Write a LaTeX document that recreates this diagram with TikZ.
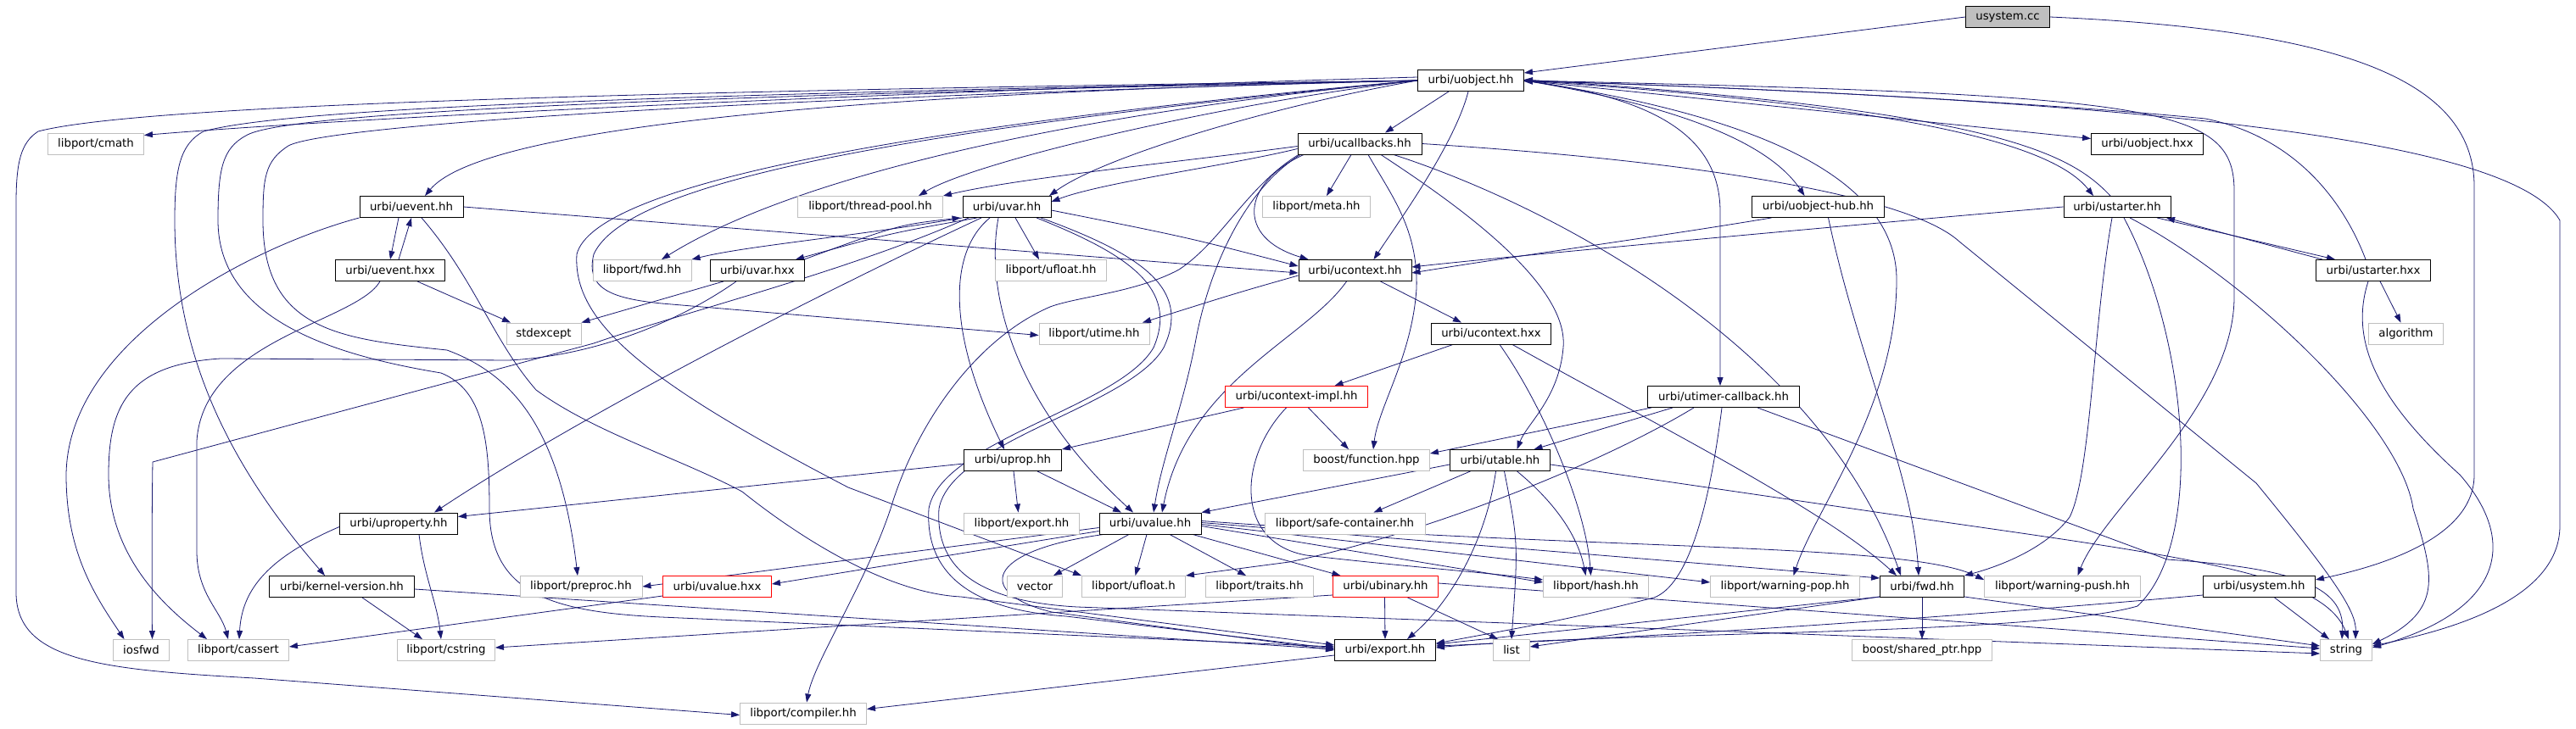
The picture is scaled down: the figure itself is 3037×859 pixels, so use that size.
\documentclass[tikz,border=0pt]{standalone}
\usepackage{fontspec}
\setmainfont{DejaVu Sans}
\usetikzlibrary{arrows.meta}
\definecolor{edgecol}{HTML}{191970}
\definecolor{boxgray}{HTML}{BFBFBF}
\definecolor{fillgray}{HTML}{BFBFBF}
\pgfdeclarelayer{bg}
\pgfsetlayers{bg,main}
\newcommand\nodefont{\fontsize{13.3}{16}\selectfont}
\tikzset{
  bb/.style={draw=black,line width=0.9pt,fill=white,minimum height=25pt,inner sep=0pt,font=\nodefont},
  gb/.style={bb,draw=boxgray},
  rb/.style={bb,draw=red},
  e/.style={draw=edgecol,line width=0.8pt,-{Triangle[length=10pt,width=7pt]}},
}
\begin{document}
\begin{tikzpicture}[x=1pt,y=-1pt]
\useasboundingbox (0,0) rectangle (3037,859);
\begin{pgfonlayer}{bg}
\fill[white] (0,0) rectangle (3037,859);
\end{pgfonlayer}
% ---------- nodes ----------
\node[bb,fill=fillgray,minimum width=99pt] (usycc) at (2367,20) {usystem.cc};
\node[bb,minimum width=125pt] (uobjhh) at (1734,95) {urbi/uobject.hh};
\node[gb,minimum width=113pt] (cmath) at (113,169.5) {libport/cmath};
\node[bb,minimum width=146pt] (ucallbacks) at (1603,169.5) {urbi/ucallbacks.hh};
\node[bb,minimum width=132pt] (uobjhxx) at (2531.5,169.5) {urbi/uobject.hxx};
\node[bb,minimum width=122pt] (uevent) at (485,244) {urbi/uevent.hh};
\node[gb,minimum width=171pt] (threadpool) at (1026,244) {libport/thread-pool.hh};
\node[bb,minimum width=104pt] (uvar) at (1187,244) {urbi/uvar.hh};
\node[gb,minimum width=127pt] (meta) at (1552,244) {libport/meta.hh};
\node[bb,minimum width=156pt] (uobjhub) at (2143.5,244) {urbi/uobject-hub.hh};
\node[bb,minimum width=126pt] (ustarter) at (2496,244) {urbi/ustarter.hh};
\node[bb,minimum width=129pt] (ueventhxx) at (460,319) {urbi/uevent.hxx};
\node[gb,minimum width=116pt] (pfwd) at (757,319) {libport/fwd.hh};
\node[bb,minimum width=111pt] (uvarhxx) at (893,319) {urbi/uvar.hxx};
\node[gb,minimum width=131pt] (ufloathh) at (1239,319) {libport/ufloat.hh};
\node[bb,minimum width=133pt] (ucontext) at (1597.5,319) {urbi/ucontext.hh};
\node[bb,minimum width=135pt] (ustarterhxx) at (2798,319) {urbi/ustarter.hxx};
\node[gb,minimum width=88pt] (stdexcept) at (641,393.5) {stdexcept};
\node[gb,minimum width=130pt] (utime) at (1290,393.5) {libport/utime.hh};
\node[bb,minimum width=141pt] (ucontexthxx) at (1758,393.5) {urbi/ucontext.hxx};
\node[gb,minimum width=88pt] (algorithm) at (2836.5,393.5) {algorithm};
\node[rb,minimum width=168pt] (ucimpl) at (1528.5,468) {urbi/ucontext-impl.hh};
\node[bb,minimum width=179pt] (utimer) at (2032,468) {urbi/utimer-callback.hh};
\node[bb,minimum width=115pt] (uprop) at (1194,543) {urbi/uprop.hh};
\node[gb,minimum width=149pt] (bfunction) at (1611,543) {boost/function.hpp};
\node[bb,minimum width=118pt] (utable) at (1768.5,543) {urbi/utable.hh};
\node[bb,minimum width=139pt] (uproperty) at (470,617.5) {urbi/uproperty.hh};
\node[gb,minimum width=136pt] (pexport) at (1204.5,617.5) {libport/export.hh};
\node[bb,minimum width=120pt] (uvalue) at (1356,617.5) {urbi/uvalue.hh};
\node[gb,minimum width=189pt] (safecont) at (1585.5,617.5) {libport/safe-container.hh};
\node[bb,minimum width=171pt] (kernel) at (403,692) {urbi/kernel-version.hh};
\node[gb,minimum width=144pt] (preproc) at (685,692) {libport/preproc.hh};
\node[rb,minimum width=128pt] (uvaluehxx) at (845.5,692) {urbi/uvalue.hxx};
\node[gb,minimum width=65pt] (vector) at (1220,692) {vector};
\node[gb,minimum width=122pt] (ufloath) at (1336.5,692) {libport/ufloat.h};
\node[gb,minimum width=127pt] (traits) at (1485,692) {libport/traits.hh};
\node[rb,minimum width=124pt] (ubinary) at (1633.5,692) {urbi/ubinary.hh};
\node[gb,minimum width=124pt] (hash) at (1881.5,692) {libport/hash.hh};
\node[gb,minimum width=176pt] (wpop) at (2104.5,692) {libport/warning-pop.hh};
\node[bb,minimum width=99pt] (ufwd) at (2266,692) {urbi/fwd.hh};
\node[gb,minimum width=184pt] (wpush) at (2431.5,692) {libport/warning-push.hh};
\node[bb,minimum width=132pt] (usystemhh) at (2663.5,692) {urbi/usystem.hh};
\node[gb,minimum width=66pt] (iosfwd) at (166.5,767) {iosfwd};
\node[gb,minimum width=119pt] (cassert) at (281,767) {libport/cassert};
\node[gb,minimum width=115pt] (cstring) at (526,767) {libport/cstring};
\node[bb,minimum width=119pt] (uexport) at (1633,767) {urbi/export.hh};
\node[gb,minimum width=43pt] (list) at (1782,767) {list};
\node[gb,minimum width=165pt] (sharedptr) at (2266,767) {boost/shared\_ptr.hpp};
\node[gb,minimum width=61pt] (string) at (2766,767) {string};
\node[gb,minimum width=149pt] (compiler) at (947,841.5) {libport/compiler.hh};
% ---------- edges ----------
\begin{pgfonlayer}{bg}
% usystem.cc
\draw[e] (usycc.west) -- ([yshift=9pt]uobjhh.east);
\draw[e] (usycc.east) .. controls (2750,35) and (2917,90) .. (2917,220) -- (2917,560) .. controls (2917,630) and (2820,665) .. ([yshift=8pt]usystemhh.east);
% uobject.hh
\draw[e] (uobjhh.west) .. controls (700,108) and (160,125) .. (45,155) .. controls (25,168) and (19,190) .. (19,240) -- (19,700) .. controls (20,780) and (120,790) .. (300,800) -- ([yshift=-2pt]compiler.west);
\draw[e] ([yshift=4pt]uobjhh.west) .. controls (1000,110) and (400,140) .. ([yshift=10pt]cmath.east);
\draw[e] (uobjhh.west) .. controls (700,112) and (330,130) .. (240,155) .. controls (212,170) and (206,200) .. (206,260) .. controls (206,430) and (280,560) .. ([xshift=-20pt]kernel.north);
\draw[e] (uobjhh.west) .. controls (700,115) and (330,135) .. (290,160) .. controls (262,175) and (257,200) .. (257,260) .. controls (257,380) and (400,420) .. (520,440) .. controls (570,460) and (577,520) .. (577,600) .. controls (577,700) and (650,722) .. (780,728) -- ([yshift=4pt]uexport.west);
\draw[e] (uobjhh.west) .. controls (800,118) and (380,150) .. (340,172) .. controls (312,190) and (310,210) .. (310,260) .. controls (310,390) and (400,400) .. (527,413) .. controls (600,440) and (660,500) .. ([xshift=-4pt]preproc.north);
\draw[e] (uobjhh.west) .. controls (900,112) and (560,160) .. ([xshift=16pt]uevent.north);
\draw[e] (uobjhh.west) .. controls (1050,150) and (700,220) .. (680,300) .. controls (675,380) and (760,450) .. (1000,575) -- (ufloath.north west);
\draw[e] (uobjhh.west) .. controls (1100,150) and (740,210) .. (700,300) .. controls (690,340) and (720,352) .. (780,358) -- ([yshift=-2pt]utime.west);
\draw[e] (uobjhh.west) .. controls (1450,120) and (1150,190) .. ([xshift=57pt]threadpool.north);
\draw[e] (uobjhh.west) .. controls (1500,125) and (1300,185) .. ([xshift=50pt]uvar.north);
\draw[e] (uobjhh.west) .. controls (1300,130) and (950,200) .. ([xshift=23pt]pfwd.north);
\draw[e] ([xshift=-26pt]uobjhh.south) -- ([xshift=30pt]ucallbacks.north);
\draw[e] ([xshift=-3pt]uobjhh.south) .. controls (1715,170) and (1650,260) .. ([xshift=22pt]ucontext.north);
\draw[e] (uobjhh.east) .. controls (1950,120) and (2080,160) .. ([xshift=-16pt]uobjhub.north);
\draw[e] (uobjhh.east) .. controls (1950,115) and (2028,160) .. (2028,250) -- ([xshift=-4pt]utimer.north);
\draw[e] (uobjhh.east) -- ([yshift=6pt]uobjhxx.west);
\draw[e] (uobjhh.east) .. controls (2250,125) and (2420,170) .. ([xshift=-28pt]ustarter.north);
\draw[e] (uobjhh.east) .. controls (2560,112) and (2636,125) .. (2634,230) -- (2634,350) .. controls (2634,480) and (2480,600) .. ([xshift=18pt]wpush.north);
\draw[e] (uobjhh.east) .. controls (2500,118) and (2960,160) .. (3018,260) -- (3018,620) .. controls (3018,710) and (2880,745) .. ([yshift=5pt]string.east);
\draw[e] (uobjhh.east) .. controls (2100,140) and (2236,220) .. (2236,330) .. controls (2236,480) and (2140,600) .. ([xshift=10pt]wpop.north);
% back edges into uobject.hh
\draw[e] ([xshift=-8pt]ustarter.north) .. controls (2440,180) and (2350,130) .. ([yshift=1pt]uobjhh.east);
\draw[e] ([xshift=-9pt]ustarterhxx.north) .. controls (2760,230) and (2700,160) .. (2600,140) .. controls (2400,120) and (2000,100) .. ([yshift=-1pt]uobjhh.east);
% uobject-hub
\draw[e] ([xshift=12pt]uobjhub.south) .. controls (2190,420) and (2255,560) .. ([xshift=-4pt]ufwd.north);
\draw[e] ([xshift=-55pt]uobjhub.south) .. controls (1950,280) and (1800,300) .. ([yshift=-3pt]ucontext.east);
% ustarter
\draw[e] (ustarter.west) .. controls (2300,255) and (1800,300) .. ([yshift=4pt]ucontext.east);
\draw[e] ([xshift=-6pt]ustarter.south) .. controls (2468,380) and (2465,560) .. (2440,610) .. controls (2410,650) and (2350,670) .. (ufwd.north east);
\draw[e] ([xshift=8pt]ustarter.south) .. controls (2580,400) and (2600,640) .. (2520,715) .. controls (2400,750) and (1900,745) .. ([yshift=3pt]uexport.east);
\draw[e] ([xshift=15pt]ustarter.south) .. controls (2650,330) and (2830,500) .. (2845,600) .. controls (2870,680) and (2880,720) .. ([yshift=7pt]string.east);
\draw[e] ([xshift=47pt]ustarter.south) -- ([xshift=-45pt]ustarterhxx.north);
\draw[e] ([xshift=-60pt]ustarterhxx.north) -- ([xshift=58pt]ustarter.south);
\draw[e] ([xshift=8pt]ustarterhxx.south) -- ([xshift=-6pt]algorithm.north);
\draw[e] ([xshift=-6pt]ustarterhxx.south) .. controls (2770,400) and (2800,470) .. (2900,560) .. controls (2970,640) and (2950,720) .. ([yshift=3pt]string.east);
% ucallbacks
\draw[e] ([yshift=-3pt]ucallbacks.west) .. controls (1400,190) and (1200,210) .. (threadpool.north east);
\draw[e] ([yshift=-6pt]ucallbacks.west) .. controls (1450,195) and (1300,215) .. ([yshift=6pt]uvar.east);
\draw[e] ([xshift=-10pt]ucallbacks.south) -- ([xshift=12pt]meta.north);
\draw[e] ([xshift=-66pt]ucallbacks.south) .. controls (1465,215) and (1455,280) .. ([xshift=-55pt]ucontext.north);
\draw[e] ([xshift=10pt]ucallbacks.south) .. controls (1640,230) and (1672,270) .. (1670,340) .. controls (1665,420) and (1625,480) .. ([xshift=8pt]bfunction.north);
\draw[e] ([xshift=25pt]ucallbacks.south) .. controls (1700,230) and (1850,330) .. (1843,410) .. controls (1838,470) and (1800,500) .. ([xshift=20pt]utable.north);
\draw[e] ([xshift=-70pt]ucallbacks.south) .. controls (1465,225) and (1425,320) .. (1410,400) .. controls (1395,480) and (1370,540) .. ([xshift=4pt]uvalue.north);
\draw[e] ([xshift=-72pt]ucallbacks.south) .. controls (1470,220) and (1440,285) .. (1390,318) .. controls (1340,345) and (1270,350) .. (1238,362) .. controls (1150,400) and (1080,500) .. (1050,600) .. controls (1020,690) and (960,780) .. ([xshift=4pt]compiler.north);
\draw[e] ([xshift=40pt]ucallbacks.south) .. controls (1850,250) and (2150,420) .. ([xshift=-25pt]ufwd.north);
\draw[e] (ucallbacks.east) .. controls (2000,190) and (2250,230) .. (2310,285) -- (2660,570) .. controls (2750,680) and (2778,720) .. ([xshift=11pt]string.north);
% ucontext
\draw[e] ([xshift=30pt]ucontext.south) -- ([xshift=-35pt]ucontexthxx.north);
\draw[e] ([yshift=-6pt]ucontext.west) .. controls (1460,345) .. ([xshift=57pt]utime.north);
\draw[e] ([xshift=-10pt]ucontext.south) .. controls (1540,400) and (1400,450) .. ([xshift=14pt]uvalue.north);
\draw[e] ([xshift=-45pt]ucontexthxx.south) -- ([xshift=45pt]ucimpl.north);
\draw[e] ([xshift=10pt]ucontexthxx.south) .. controls (1820,480) and (1870,600) .. ([xshift=-6pt]hash.north);
\draw[e] ([xshift=25pt]ucontexthxx.south) .. controls (1950,500) and (2150,600) .. ([xshift=-30pt]ufwd.north);
\draw[e] ([xshift=-62pt]ucimpl.south) -- (uprop.north east);
\draw[e] ([xshift=14pt]ucimpl.south) -- ([xshift=-21pt]bfunction.north);
\draw[e] ([xshift=-12pt]ucimpl.south) .. controls (1460,540) and (1455,640) .. (1540,655) .. controls (1650,668) and (1750,675) .. ([yshift=8pt]hash.west);
% utimer
\draw[e] ([xshift=-85pt]utimer.south) -- ([yshift=8pt]bfunction.east);
\draw[e] ([xshift=-60pt]utimer.south) -- ([xshift=40pt]utable.north);
\draw[e] ([xshift=-35pt]utimer.south) .. controls (1900,540) and (1700,625) .. (1520,663) -- (ufloath.north east);
\draw[e] ([xshift=-2pt]utimer.south) .. controls (2015,600) and (1990,690) .. (1950,705) .. controls (1850,730) .. ([yshift=8pt]uexport.east);
\draw[e] ([xshift=40pt]utimer.south) -- (2555,660) .. controls (2700,670) and (2765,690) .. ([xshift=-5pt]string.north);
% uvar
\draw[e] (uvar.south west) .. controls (1000,280) and (880,290) .. (pfwd.north east);
\draw[e] ([xshift=-35pt]uvar.south) .. controls (1050,275) .. ([xshift=45pt]uvarhxx.north);
\draw[e] ([xshift=55pt]uvarhxx.north) .. controls (1060,265) .. ([xshift=-2pt]uvar.south west);
\draw[e] ([xshift=10pt]uvar.south) -- ([xshift=-14pt]ufloathh.north);
\draw[e] ([yshift=-4pt]uvar.east) .. controls (1400,280) .. ([yshift=5pt]ucontext.west);
\draw[e] ([xshift=-20pt]uvar.south) .. controls (1115,300) and (1120,400) .. ([xshift=-10pt]uprop.north);
\draw[e] ([xshift=-10pt]uvar.south) .. controls (1160,350) and (1200,480) .. ([xshift=-20pt]uvalue.north);
\draw[e] ([xshift=-30pt]uvar.south) .. controls (1000,330) and (700,480) .. ([xshift=42pt]uproperty.north);
\draw[e] ([xshift=-45pt]uvar.south) .. controls (1000,320) and (800,370) .. (700,405) -- (180,545) .. controls (179,600) and (179,700) .. ([xshift=13pt]iosfwd.north);
\draw[e] ([xshift=35pt]uvar.south) .. controls (1330,300) and (1390,340) .. (1360,410) .. controls (1320,480) and (1110,520) .. (1095,600) .. controls (1090,680) and (1150,720) .. (1257,727) -- ([yshift=2pt]uexport.west);
\draw[e] ([xshift=40pt]uvar.south) .. controls (1345,300) and (1405,340) .. (1372,410) .. controls (1332,480) and (1122,520) .. (1107,600) .. controls (1102,675) and (1160,710) .. (1270,716) -- ([yshift=-4pt]string.west);
\draw[e] ([xshift=-40pt]uvarhxx.south) -- (stdexcept.north east);
\draw[e] ([xshift=-25pt]uvarhxx.south) .. controls (800,380) and (700,420) .. (600,425) -- (260,423) .. controls (150,430) and (128,480) .. (128,560) .. controls (128,660) and (200,720) .. ([xshift=-37pt]cassert.north);
% uevent
\draw[e] ([xshift=32pt]ueventhxx.south) -- ([xshift=-39pt]stdexcept.north);
\draw[e] ([xshift=-12pt]ueventhxx.south) .. controls (420,380) and (240,400) .. (232,520) -- (232,650) .. controls (232,700) and (260,720) .. ([xshift=-12pt]cassert.north);
\draw[e] ([xshift=10pt]ueventhxx.north) -- (uevent.south);
\draw[e] ([xshift=-15pt]uevent.south) -- (ueventhxx.north);
\draw[e] (uevent.south west) .. controls (300,290) and (80,400) .. (78,560) .. controls (78,650) and (110,700) .. ([xshift=-20pt]iosfwd.north);
\draw[e] (uevent.east) -- ([yshift=-3pt]ucontext.west);
\draw[e] ([xshift=12pt]uevent.south) .. controls (560,330) and (580,400) .. (632,460) .. controls (700,510) and (800,540) .. (875,580) .. controls (950,640) and (1050,700) .. (1133,704) -- ([yshift=6pt]uexport.west);
% uvalue
\draw[e] ([yshift=-5pt]uvalue.west) -- (preproc.east);
\draw[e] ([yshift=-9pt]uvalue.west) -- ([yshift=3pt]uvaluehxx.east);
\draw[e] ([xshift=-25pt]uvalue.south) -- ([xshift=22pt]vector.north);
\draw[e] ([xshift=-4pt]uvalue.south) -- ([xshift=2pt]ufloath.north);
\draw[e] ([xshift=23pt]uvalue.south) -- ([xshift=-16pt]traits.north);
\draw[e] ([xshift=50pt]uvalue.south) -- ([xshift=-53pt]ubinary.north);
\draw[e] ([yshift=-3pt]uvalue.east) -- ([yshift=5pt]hash.west);
\draw[e] ([yshift=-1pt]uvalue.east) -- ([yshift=5pt]wpop.west);
\draw[e] ([yshift=1pt]uvalue.east) -- ([yshift=10pt]ufwd.west);
\draw[e] ([yshift=3pt]uvalue.east) .. controls (1900,650) and (2250,640) .. ([yshift=8pt]wpush.west);
\draw[e] ([xshift=-55pt]uvalue.south) .. controls (1160,650) and (1150,700) .. (1240,722) -- ([yshift=0pt]uexport.west);
% uprop, utable
\draw[e] ([yshift=-4pt]uprop.west) -- ([yshift=8pt]uproperty.east);
\draw[e] ([xshift=1pt]uprop.south) -- ([xshift=-4pt]pexport.north);
\draw[e] ([xshift=29pt]uprop.south) -- ([xshift=-34pt]uvalue.north);
\draw[e] ([yshift=-5pt]utable.west) -- (uvalue.north east);
\draw[e] ([xshift=-35pt]utable.south) -- ([xshift=34pt]safecont.north);
\draw[e] ([xshift=-5pt]utable.south) .. controls (1750,650) and (1700,720) .. ([xshift=26pt]uexport.north);
\draw[e] ([xshift=5pt]utable.south) .. controls (1790,640) .. (list.north);
\draw[e] ([xshift=20pt]utable.south) .. controls (1830,590) and (1860,630) .. ([xshift=-12pt]hash.north);
\draw[e] ([yshift=-5pt]utable.east) -- (2300,617) .. controls (2600,660) and (2740,680) .. ([xshift=3pt]string.north);
% ubinary, fwd, usystem.hh
\draw[e] ([xshift=-1pt]ubinary.south) -- (uexport.north);
\draw[e] ([xshift=26pt]ubinary.south) -- ([xshift=-16pt]list.north);
\draw[e] ([yshift=4pt]ubinary.east) -- ([yshift=2pt]string.west);
\draw[e] ([yshift=-10pt]ubinary.west) -- ([yshift=3pt]cstring.east);
\draw[e] (ufwd.south) -- (sharedptr.north);
\draw[e] ([yshift=-12pt]ufwd.west) -- ([yshift=7pt]uexport.east);
\draw[e] ([yshift=-12pt]ufwd.west) -- ([yshift=4pt]list.east);
\draw[e] ([yshift=-12pt]ufwd.east) -- ([yshift=5pt]string.west);
\draw[e] ([xshift=18pt]usystemhh.south) -- ([xshift=-20pt]string.north);
\draw[e] ([yshift=-10pt]usystemhh.west) .. controls (2400,720) and (2000,750) .. ([yshift=5pt]uexport.east);
% left-bottom area
\draw[e] ([xshift=24pt]kernel.south) -- ([xshift=-28pt]cstring.north);
\draw[e] ([yshift=-3pt]kernel.east) -- ([yshift=1pt]uexport.west);
\draw[e] ([yshift=-4pt]uproperty.west) .. controls (310,660) and (285,700) .. ([xshift=1pt]cassert.north);
\draw[e] ([xshift=24pt]uproperty.south) .. controls (500,680) and (515,710) .. ([xshift=-6pt]cstring.north);
\draw[e] ([yshift=-11pt]uvaluehxx.west) -- ([yshift=4pt]cassert.east);
\draw[e] ([yshift=-6pt]uexport.west) -- ([yshift=5pt]compiler.east);
\end{pgfonlayer}
\end{tikzpicture}
\end{document}
